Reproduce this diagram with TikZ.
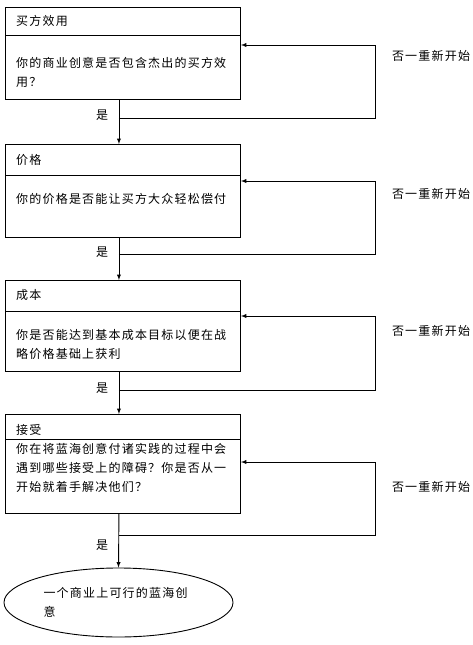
\documentclass[tikz,border=0pt]{standalone}
\usepackage{fontspec}
\newfontfamily\cjk[LetterSpace=10]{Noto Sans CJK SC}
\usetikzlibrary{arrows}
\usetikzlibrary{shapes.geometric}

\tikzset{
  stagebox/.style={draw, line width=0.9pt, rectangle, inner sep=0pt, minimum width=235pt, anchor=north west},
  boxtext/.style={inner sep=0pt, anchor=west, font=\cjk\fontsize{12}{19}\selectfont},
  bodytext/.style={boxtext, anchor=north west, align=left},
  flow/.style={line width=0.9pt, -latex},
  rule/.style={line width=0.9pt},
}

\begin{document}
\begin{tikzpicture}[x=1pt,y=-1pt]
\useasboundingbox (0,0) rectangle (473,645);
\def\L{5}
\def\T{16}
\def\Rx{375}
\def\Nx{431}
\def\Yx{102}

%buyer utility
\node[stagebox, minimum height=92pt] (q1) at (\L,7) {};
\coordinate (d1) at (\L,35);
\draw[rule] (d1) -- (d1 -| q1.east);
\node[boxtext] (t1) at (\T,21) {买方效用};
\node[bodytext] (b1) at (\T,57) {你的商业创意是否包含杰出的买方效\\用？};

%price
\node[stagebox, minimum height=93pt] (q2) at (\L,144) {};
\coordinate (d2) at (\L,175);
\draw[rule] (d2) -- (d2 -| q2.east);
\node[boxtext] (t2) at (\T,160) {价格};
\node[boxtext] (b2) at (\T,199) {你的价格是否能让买方大众轻松偿付};

%cost
\node[stagebox, minimum height=91pt] (q3) at (\L,280) {};
\coordinate (d3) at (\L,311);
\draw[rule] (d3) -- (d3 -| q3.east);
\node[boxtext] (t3) at (\T,295) {成本};
\node[bodytext] (b3) at (\T,329) {你是否能达到基本成本目标以便在战\\略价格基础上获利};

%adoption
\node[stagebox, minimum height=99pt] (q4) at (\L,414) {};
\coordinate (d4) at (\L,439);
\draw[rule] (d4) -- (d4 -| q4.east);
\node[boxtext] (t4) at (\T,430) {接受};
\node[bodytext] (b4) at (\T,443) {你在将蓝海创意付诸实践的过程中会\\遇到哪些接受上的障碍？你是否从一\\开始就着手解决他们？};

%result
\node[draw, ellipse, line width=0.9pt, minimum width=229pt, minimum height=69pt, inner sep=0pt,
  text width=150pt, align=left, font=\cjk\fontsize{12}{19}\selectfont] (idea) at (118.5,602.5)
  {一个商业上可行的蓝海创\\意};

%yes arrows
\draw[flow] ([xshift=-4pt]q1.south) -- ([xshift=-4pt]q2.north);
\draw[flow] ([xshift=-4pt]q2.south) -- ([xshift=-4pt]q3.north);
\draw[flow] ([xshift=-4pt]q3.south) -- ([xshift=-4pt]q4.north);
\draw[flow] ([xshift=-4pt]q4.south) -- (idea.north);
\node[boxtext, anchor=center] (y1) at (\Yx,115) {是};
\node[boxtext, anchor=center] (y2) at (\Yx,252) {是};
\node[boxtext, anchor=center] (y3) at (\Yx,388) {是};
\node[boxtext, anchor=center] (y4) at (\Yx,545) {是};

%no loops
\coordinate (j1) at ([xshift=-4pt,yshift=-19pt]q1.south);
\coordinate (r1) at (\Rx,45);
\draw[flow] (j1) -| (r1) -- (r1 -| q1.east);
\node[boxtext, anchor=center] (n1) at (\Nx,56) {否一重新开始};

\coordinate (j2) at ([xshift=-4pt,yshift=-17pt]q2.south);
\coordinate (r2) at (\Rx,181);
\draw[flow] (j2) -| (r2) -- (r2 -| q2.east);
\node[boxtext, anchor=center] (n2) at (\Nx,194) {否一重新开始};

\coordinate (j3) at ([xshift=-4pt,yshift=-19pt]q3.south);
\coordinate (r3) at (\Rx,316);
\draw[flow] (j3) -| (r3) -- (r3 -| q3.east);
\node[boxtext, anchor=center] (n3) at (\Nx,331) {否一重新开始};

\coordinate (j4) at ([xshift=-4pt,yshift=-22pt]q4.south);
\coordinate (r4) at (\Rx,462);
\draw[flow] (j4) -| (r4) -- (r4 -| q4.east);
\node[boxtext, anchor=center] (n4) at (\Nx,487) {否一重新开始};

\end{tikzpicture}
\end{document}
